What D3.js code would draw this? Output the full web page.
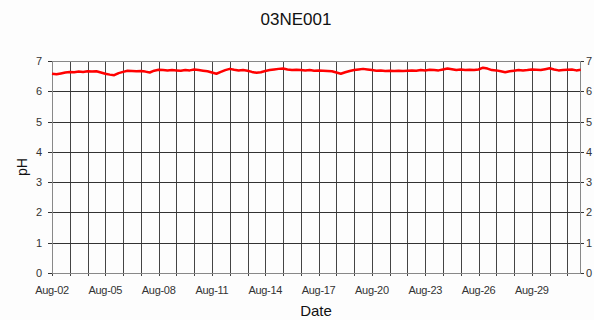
<!DOCTYPE html>
<html lang="en">
<head>
  <meta charset="utf-8">
  <title>03NE001 pH</title>
  <script src="https://d3js.org/d3.v7.min.js"></script>
  <style>
    body { margin: 0; background: #fdfdfd; }
    text { font-family: "Liberation Sans", Arial, sans-serif; }
  </style>
</head>
<body>
<svg id="chart" width="594" height="320"></svg>
<script>
  // pH readings every 6 hours, starting Aug-02 00:00
  var startDate = new Date(2003, 7, 2);
  var phValues = [
    6.58, 6.56, 6.59, 6.62,  6.64, 6.63, 6.65, 6.64,  6.66, 6.65, 6.66, 6.62,
    6.58, 6.55, 6.53, 6.60,  6.64, 6.68, 6.67, 6.66,  6.67, 6.65, 6.62, 6.68,
    6.71, 6.70, 6.69, 6.70,  6.69, 6.68, 6.70, 6.69,  6.72, 6.70, 6.68, 6.66,
    6.62, 6.58, 6.64, 6.70,  6.74, 6.71, 6.69, 6.70,  6.68, 6.64, 6.61, 6.63,
    6.67, 6.70, 6.72, 6.74,  6.75, 6.72, 6.70, 6.71,  6.70, 6.69, 6.70, 6.68,
    6.69, 6.68, 6.67, 6.66,  6.62, 6.58, 6.63, 6.67,  6.70, 6.72, 6.74, 6.72,
    6.70, 6.68, 6.69, 6.67,  6.68, 6.67, 6.68, 6.67,  6.68, 6.69, 6.68, 6.70,
    6.69, 6.71, 6.70, 6.69,  6.72, 6.75, 6.73, 6.70,  6.72, 6.70, 6.71, 6.70,
    6.72, 6.78, 6.75, 6.70,  6.69, 6.66, 6.63, 6.66,  6.68, 6.70, 6.69, 6.70,
    6.72, 6.71, 6.70, 6.73,  6.76, 6.72, 6.69, 6.70,  6.71, 6.72, 6.69, 6.71
  ];
  var yTicks = [0, 1, 2, 3, 4, 5, 6, 7];
  var labelDays = [0, 3, 6, 9, 12, 15, 18, 21, 24, 27];

  var data = phValues.map(function(v, i) {
    return { date: d3.timeHour.offset(startDate, i * 6), ph: v };
  });

  var svg = d3.select("#chart"),
      plotLeft = 52, plotRight = 580, plotTop = 61, plotBottom = 273;

  var x = d3.scaleTime()
      .domain([startDate, d3.timeHour.offset(d3.timeDay.offset(startDate, 29), 17)])
      .range([plotLeft, plotRight]);
  var y = d3.scaleLinear().domain([0, 7]).range([plotBottom, plotTop]);

  // vertical daily gridlines
  var days = d3.range(0, 30).map(function(d) { return d3.timeDay.offset(startDate, d); });
  svg.append("g").selectAll("line")
    .data(days).enter().append("line")
    .attr("x1", function(d) { return Math.round(x(d)) + 0.5; })
    .attr("x2", function(d) { return Math.round(x(d)) + 0.5; })
    .attr("y1", plotTop).attr("y2", plotBottom + 3)
    .attr("stroke", "#444");

  // horizontal gridlines
  svg.append("g").selectAll("line")
    .data(yTicks).enter().append("line")
    .attr("x1", plotLeft - 4).attr("x2", plotRight + 4)
    .attr("y1", function(d) { return Math.round(y(d)) + 0.5; })
    .attr("y2", function(d) { return Math.round(y(d)) + 0.5; })
    .attr("stroke", "#333");

  // frame
  svg.append("rect")
    .attr("x", plotLeft + 0.5).attr("y", plotTop + 0.5)
    .attr("width", plotRight - plotLeft).attr("height", plotBottom - plotTop)
    .attr("fill", "none").attr("stroke", "#888");

  // y labels left and right
  svg.append("g").selectAll("text")
    .data(yTicks).enter().append("text")
    .attr("x", 42).attr("y", function(d) { return y(d) + 4; })
    .attr("text-anchor", "end").attr("font-size", "11px").attr("fill", "#333")
    .text(function(d) { return d; });
  svg.append("g").selectAll("text")
    .data(yTicks).enter().append("text")
    .attr("x", 586).attr("y", function(d) { return y(d) + 4; })
    .attr("font-size", "11px").attr("fill", "#333")
    .text(function(d) { return d; });

  // x labels
  var fmt = d3.timeFormat("%b-%d");
  svg.append("g").selectAll("text")
    .data(labelDays).enter().append("text")
    .attr("x", function(d) { return x(d3.timeDay.offset(startDate, d)); })
    .attr("y", 294)
    .attr("text-anchor", "middle").attr("font-size", "11px").attr("fill", "#333")
    .attr("letter-spacing", "-0.3px")
    .text(function(d) { return fmt(d3.timeDay.offset(startDate, d)); });

  // pH line
  var line = d3.line()
    .x(function(d) { return x(d.date); })
    .y(function(d) { return y(d.ph); });
  svg.append("path")
    .datum(data)
    .attr("d", line)
    .attr("fill", "none")
    .attr("stroke", "#ff0000")
    .attr("stroke-width", 2.5)
    .attr("stroke-linejoin", "round");

  // titles
  svg.append("text")
    .attr("x", 296).attr("y", 25)
    .attr("text-anchor", "middle").attr("font-size", "17px").attr("fill", "#111")
    .text("03NE001");
  svg.append("text")
    .attr("x", 316).attr("y", 316)
    .attr("text-anchor", "middle").attr("font-size", "15px").attr("fill", "#111")
    .text("Date");
  svg.append("text")
    .attr("transform", "translate(27,167) rotate(-90)")
    .attr("text-anchor", "middle").attr("font-size", "14px").attr("fill", "#111")
    .text("pH");
</script>
</body>
</html>
